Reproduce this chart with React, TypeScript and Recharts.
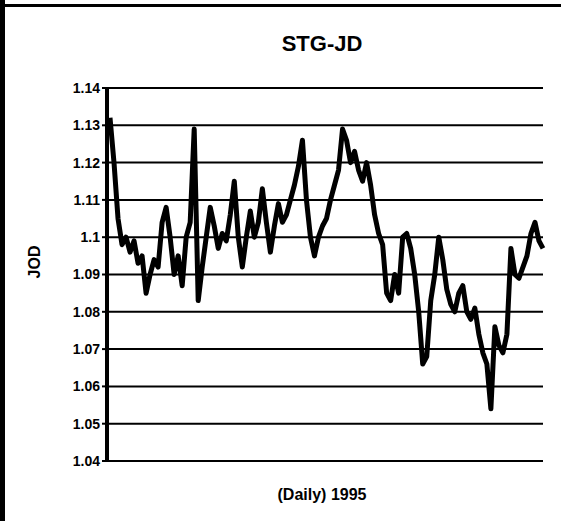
import React from 'react';
import { LineChart, Line, XAxis, YAxis, CartesianGrid } from 'recharts';

// daily JOD per STG, 1995 (roughly every third trading day)
const rates: number[] = [
  1.132, 1.12, 1.105, 1.098, 1.1, 1.096, 1.099, 1.093, 1.095, 1.085,
  1.09, 1.094, 1.092, 1.104, 1.108, 1.1, 1.09, 1.095, 1.087, 1.1,
  1.104, 1.129, 1.083, 1.092, 1.1, 1.108, 1.103, 1.097, 1.101, 1.099,
  1.106, 1.115, 1.1, 1.092, 1.1, 1.107, 1.1, 1.104, 1.113, 1.104,
  1.096, 1.103, 1.109, 1.104, 1.106, 1.11, 1.114, 1.119, 1.126, 1.11,
  1.1, 1.095, 1.1, 1.103, 1.105, 1.11, 1.114, 1.118, 1.129, 1.126,
  1.12, 1.123, 1.118, 1.115, 1.12, 1.114, 1.106, 1.101, 1.098, 1.085,
  1.083, 1.09, 1.085, 1.1, 1.101, 1.097, 1.09, 1.08, 1.066, 1.068,
  1.083, 1.09, 1.1, 1.094, 1.086, 1.082, 1.08, 1.085, 1.087, 1.08,
  1.078, 1.081, 1.074, 1.069, 1.066, 1.054, 1.076, 1.071, 1.069, 1.074,
  1.097, 1.09, 1.089, 1.092, 1.095, 1.101, 1.104, 1.099, 1.097,
];

const yTicks = [1.04, 1.05, 1.06, 1.07, 1.08, 1.09, 1.1, 1.11, 1.12, 1.13, 1.14];

const title = 'STG-JD';
const xTitle = '(Daily) 1995';
const yTitle = 'JOD';

const data = rates.map((v, i) => ({ day: i + 1, rate: v }));

const font = '"Liberation Sans", Arial, sans-serif';

export default function App() {
  return (
    <div
      style={{
        position: 'absolute',
        left: 0,
        top: 0,
        width: 561,
        height: 521,
        background: '#fff',
        fontFamily: font,
        overflow: 'hidden',
      }}
    >
      <div style={{ position: 'absolute', left: 0, top: 0, width: 5, height: 521, background: '#000' }} />
      <div style={{ position: 'absolute', left: 0, top: 4, width: 561, height: 3, background: '#000' }} />
      <LineChart width={561} height={521} data={data} margin={{ top: 88, right: 18, bottom: 60, left: 0 }}>
        <CartesianGrid vertical={false} stroke="#000" strokeWidth={2} />
        <XAxis dataKey="day" hide padding={{ left: 3, right: 0 }} />
        <YAxis
          width={107}
          domain={[1.04, 1.14]}
          ticks={yTicks}
          interval={0}
          tickFormatter={(v: number) => String(Number(v.toFixed(2)))}
          axisLine={{ stroke: '#000', strokeWidth: 4 }}
          tickLine={{ stroke: '#000', strokeWidth: 2 }}
          tickSize={5}
          tick={{ fill: '#000', fontSize: 14, fontWeight: 700, fontFamily: font }}
        />
        <Line
          type="linear"
          dataKey="rate"
          stroke="#000"
          strokeWidth={5}
          strokeLinejoin="round"
          dot={false}
          isAnimationActive={false}
        />
      </LineChart>
      <div style={{ position: 'absolute', left: 222, top: 31, width: 200, textAlign: 'center', fontSize: 22, fontWeight: 700 }}>
        {title}
      </div>
      <div style={{ position: 'absolute', left: 222, top: 486, width: 200, textAlign: 'center', fontSize: 16, fontWeight: 700 }}>
        {xTitle}
      </div>
      <div
        style={{
          position: 'absolute',
          left: 35,
          top: 262,
          transform: 'translate(-50%, -50%) rotate(-90deg)',
          fontSize: 16,
          fontWeight: 700,
        }}
      >
        {yTitle}
      </div>
    </div>
  );
}
